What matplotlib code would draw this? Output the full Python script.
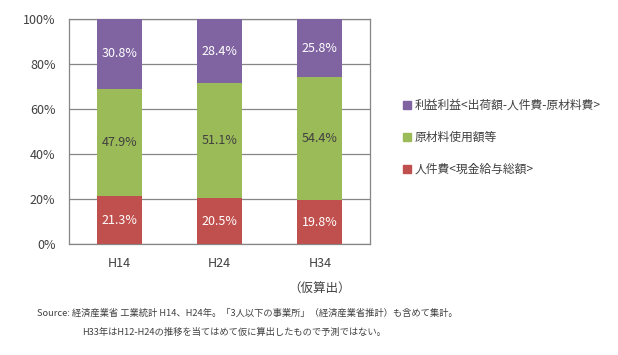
import matplotlib
matplotlib.use("Agg")
import matplotlib.pyplot as plt
from matplotlib.lines import Line2D
import numpy as np

plt.rcParams['font.family'] = ['Noto Sans CJK JP', 'DejaVu Sans']

categories = ["H14", "H24", "H34"]
labor = [21.3, 20.5, 19.8]       # 人件費
materials = [47.9, 51.1, 54.4]   # 原材料使用額等
profit = [30.8, 28.4, 25.8]      # 利益
series_names = ["利益利益<出荷額-人件費-原材料費>", "原材料使用額等", "人件費<現金給与総額>"]
yticks = [0, 20, 40, 60, 80, 100]

c_profit = "#8064A2"
c_mat = "#9BBB59"
c_lab = "#C0504D"
txt = "#404040"
grid = "#868686"

fig = plt.figure(figsize=(6.18, 3.55), dpi=100)
ax = fig.add_axes([69.3/618, 1-244.3/355, (370-69.3)/618, (244.3-19.3)/355])

x = np.arange(len(categories))
w = 0.45
b1 = ax.bar(x, labor, w, color=c_lab, zorder=3)
b2 = ax.bar(x, materials, w, bottom=labor, color=c_mat, zorder=3)
bot3 = np.array(labor) + np.array(materials)
b3 = ax.bar(x, profit, w, bottom=bot3, color=c_profit, zorder=3)

for bars, vals, col in [(b1, labor, "white"), (b2, materials, txt), (b3, profit, "white")]:
    ax.bar_label(bars, labels=[f"{v:.1f}%" for v in vals], label_type="center",
                 color=col, fontsize=9)

ax.set_xlim(-0.5, 2.5)
ax.set_ylim(0, 100)
ax.set_yticks(yticks)
ax.set_yticklabels([f"{v}%" for v in yticks])
ax.set_xticks(x)
ax.set_xticklabels(categories)
ax.tick_params(axis="y", length=0, pad=10, labelsize=9, labelcolor=txt)
ax.tick_params(axis="x", length=0, pad=9, labelsize=9, labelcolor=txt)
ax.yaxis.grid(True, color=grid, linewidth=0.9, zorder=0)
for s in ax.spines.values():
    s.set_color(grid)
    s.set_linewidth(0.9)

ax.text(2, -19.8, "（仮算出）", ha="center", va="center", fontsize=9, color=txt,
        transform=ax.transData, clip_on=False)

handles = [Line2D([], [], marker="s", linestyle="none", markersize=6, color=c)
           for c in (c_profit, c_mat, c_lab)]
fig.legend(handles, series_names, loc="upper left",
           bbox_to_anchor=(403/618, 1-99/355), frameon=False, fontsize=8.5,
           handlelength=0.6, handletextpad=0.35, labelspacing=1.6,
           labelcolor=txt, borderaxespad=0, borderpad=0)

fig.text(37/618, 1-313/355, "Source: 経済産業省 工業統計 H14、H24年。「3人以下の事業所」（経済産業省推計）も含めて集計。",
         ha="left", va="center", fontsize=6.7, color=txt)
fig.text(82/618, 1-332/355, "H33年はH12-H24の推移を当てはめて仮に算出したもので予測ではない。",
         ha="left", va="center", fontsize=6.7, color=txt)

fig.savefig("out.png", dpi=100, facecolor="white")
